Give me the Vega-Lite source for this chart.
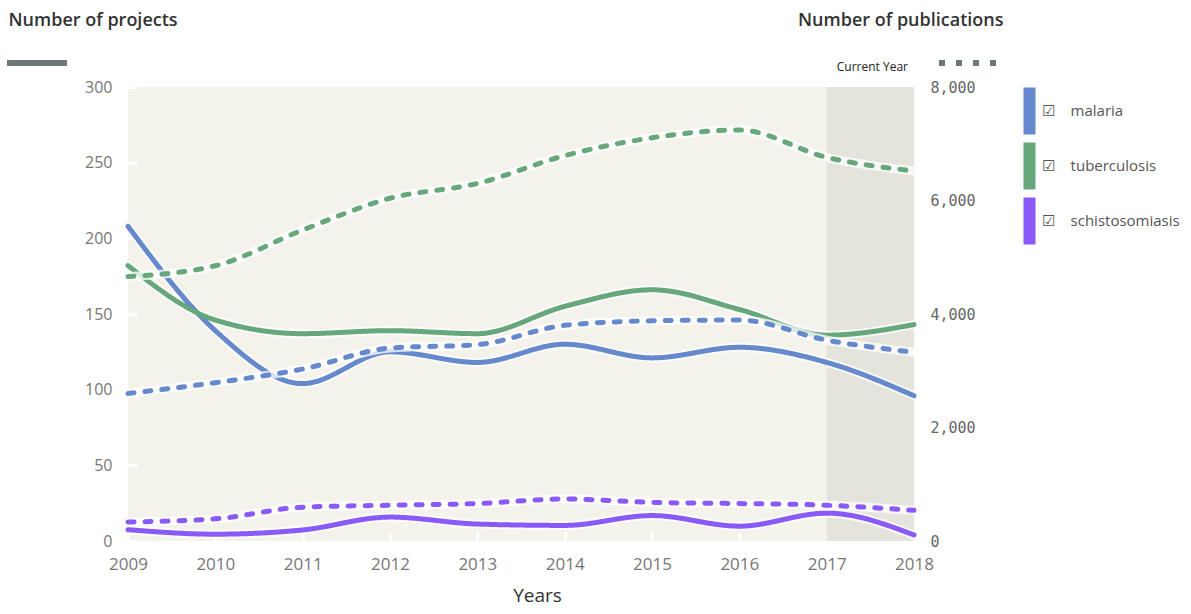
{
  "$schema": "https://vega.github.io/schema/vega-lite/v6.json",
  "width": 786,
  "height": 454,
  "autosize": {"type": "none"},
  "padding": {"left": 128, "top": 87, "right": 277, "bottom": 73},
  "background": "white",
  "config": {"view": {"fill": "#f3f2eb", "stroke": null}},
  "data": {
    "values": [
      {"year": 2009, "disease": "malaria", "projects": 208, "pubs": 2600},
      {"year": 2010, "disease": "malaria", "projects": 139, "pubs": 2790},
      {"year": 2011, "disease": "malaria", "projects": 104, "pubs": 3030},
      {"year": 2012, "disease": "malaria", "projects": 125, "pubs": 3400},
      {"year": 2013, "disease": "malaria", "projects": 118, "pubs": 3460},
      {"year": 2014, "disease": "malaria", "projects": 130, "pubs": 3800},
      {"year": 2015, "disease": "malaria", "projects": 121, "pubs": 3880},
      {"year": 2016, "disease": "malaria", "projects": 128, "pubs": 3894},
      {"year": 2017, "disease": "malaria", "projects": 118, "pubs": 3540},
      {"year": 2018, "disease": "malaria", "projects": 96, "pubs": 3325},
      {"year": 2009, "disease": "tuberculosis", "projects": 182, "pubs": 4660},
      {"year": 2010, "disease": "tuberculosis", "projects": 146, "pubs": 4850},
      {"year": 2011, "disease": "tuberculosis", "projects": 137, "pubs": 5480},
      {"year": 2012, "disease": "tuberculosis", "projects": 139, "pubs": 6040},
      {"year": 2013, "disease": "tuberculosis", "projects": 137, "pubs": 6300},
      {"year": 2014, "disease": "tuberculosis", "projects": 155, "pubs": 6790},
      {"year": 2015, "disease": "tuberculosis", "projects": 166, "pubs": 7105},
      {"year": 2016, "disease": "tuberculosis", "projects": 153, "pubs": 7242},
      {"year": 2017, "disease": "tuberculosis", "projects": 136, "pubs": 6760},
      {"year": 2018, "disease": "tuberculosis", "projects": 143, "pubs": 6519},
      {"year": 2009, "disease": "schistosomiasis", "projects": 7.5, "pubs": 335},
      {"year": 2010, "disease": "schistosomiasis", "projects": 4.5, "pubs": 390},
      {"year": 2011, "disease": "schistosomiasis", "projects": 7.3, "pubs": 596},
      {"year": 2012, "disease": "schistosomiasis", "projects": 15.8, "pubs": 630},
      {"year": 2013, "disease": "schistosomiasis", "projects": 11.2, "pubs": 660},
      {"year": 2014, "disease": "schistosomiasis", "projects": 10.3, "pubs": 740},
      {"year": 2015, "disease": "schistosomiasis", "projects": 16.8, "pubs": 680},
      {"year": 2016, "disease": "schistosomiasis", "projects": 9.8, "pubs": 660},
      {"year": 2017, "disease": "schistosomiasis", "projects": 18.4, "pubs": 630},
      {"year": 2018, "disease": "schistosomiasis", "projects": 4, "pubs": 540}
    ]
  },
  "encoding": {
    "x": {
      "field": "year",
      "type": "quantitative",
      "scale": {"domain": [2009, 2018], "nice": false, "zero": false},
      "axis": {
        "title": "Years",
        "values": [2009, 2010, 2011, 2012, 2013, 2014, 2015, 2016, 2017, 2018],
        "format": "d",
        "domain": false,
        "grid": false,
        "tickColor": "white",
        "tickWidth": 3,
        "tickSize": -9,
        "labelPadding": 24,
        "labelFlush": false,
        "labelOverlap": false,
        "labelFont": "Open Sans",
        "labelFontSize": 17,
        "labelColor": "#777777",
        "titleFont": "Open Sans",
        "titleFontSize": 19,
        "titleFontWeight": "normal",
        "titleColor": "#333333",
        "titlePadding": 14,
        "titleX": 409
      }
    }
  },
  "layer": [
    {
      "data": {"values": [{"year": 2017, "year_end": 2018, "label": "Current Year"}]},
      "layer": [
        {
          "mark": {"type": "rect", "color": "#e4e3dc"},
          "encoding": {"x2": {"field": "year_end"}}
        },
        {
          "mark": {"type": "text", "align": "right", "baseline": "middle", "dx": -6, "dy": -20, "font": "Open Sans", "fontSize": 12, "color": "#222222"},
          "encoding": {
            "x": {"field": "year_end", "type": "quantitative"},
            "y": {"datum": 300, "type": "quantitative", "scale": {"domain": [0, 300], "nice": false}, "axis": null},
            "text": {"field": "label"}
          }
        }
      ]
    },
    {
      "layer": [
        {
          "mark": {"type": "line", "interpolate": "monotone", "strokeWidth": 9, "color": "white", "opacity": 0.75, "strokeCap": "round"},
          "encoding": {
            "y": {"field": "projects", "type": "quantitative", "scale": {"domain": [0, 300], "nice": false},
              "axis": {"orient": "left", "title": "Number of projects", "titleAngle": 0, "titleX": -120, "titleY": -67, "titleAlign": "left", "titleBaseline": "middle", "titleFont": "Open Sans", "titleFontSize": 18, "titleFontWeight": 600, "titleColor": "#333333", "values": [0, 50, 100, 150, 200, 250, 300], "domain": false, "grid": false, "tickColor": "white", "tickWidth": 3, "tickSize": -9, "labelPadding": 25, "labelFlush": false, "labelFont": "Open Sans", "labelFontSize": 16, "labelColor": "#777777"}},
            "detail": {"field": "disease"}
          }
        },
        {
          "mark": {"type": "line", "interpolate": "monotone", "strokeWidth": 5, "strokeCap": "round"},
          "encoding": {
            "y": {"field": "projects", "type": "quantitative", "scale": {"domain": [0, 300], "nice": false},
              "axis": {"orient": "left", "title": "Number of projects", "titleAngle": 0, "titleX": -120, "titleY": -67, "titleAlign": "left", "titleBaseline": "middle", "titleFont": "Open Sans", "titleFontSize": 18, "titleFontWeight": 600, "titleColor": "#333333", "values": [0, 50, 100, 150, 200, 250, 300], "domain": false, "grid": false, "tickColor": "white", "tickWidth": 3, "tickSize": -9, "labelPadding": 25, "labelFlush": false, "labelFont": "Open Sans", "labelFontSize": 16, "labelColor": "#777777"}},
            "color": {"field": "disease", "type": "nominal",
              "scale": {"domain": ["malaria", "tuberculosis", "schistosomiasis"], "range": ["#6688cc", "#66a77b", "#8a5af8"]},
              "legend": {"orient": "none", "legendX": 894, "legendY": 16.5, "title": null, "symbolType": "M -1 -3.75 L 1 -3.75 M -1 -3.5 L 1 -3.5 M -1 -3.25 L 1 -3.25 M -1 -3 L 1 -3 M -1 -2.75 L 1 -2.75 M -1 -2.5 L 1 -2.5 M -1 -2.25 L 1 -2.25 M -1 -2 L 1 -2 M -1 -1.75 L 1 -1.75 M -1 -1.5 L 1 -1.5 M -1 -1.25 L 1 -1.25 M -1 -1 L 1 -1 M -1 -0.75 L 1 -0.75 M -1 -0.5 L 1 -0.5 M -1 -0.25 L 1 -0.25 M -1 0 L 1 0 M -1 0.25 L 1 0.25 M -1 0.5 L 1 0.5 M -1 0.75 L 1 0.75 M -1 1 L 1 1 M -1 1.25 L 1 1.25 M -1 1.5 L 1 1.5 M -1 1.75 L 1 1.75 M -1 2 L 1 2 M -1 2.25 L 1 2.25 M -1 2.5 L 1 2.5 M -1 2.75 L 1 2.75 M -1 3 L 1 3 M -1 3.25 L 1 3.25 M -1 3.5 L 1 3.5 M -1 3.75 L 1 3.75", "symbolSize": 144, "symbolStrokeWidth": 2, "labelExpr": "'☑\u00a0\u00a0\u00a0\u00a0' + datum.label", "labelFont": "Open Sans", "labelFontSize": 15, "labelColor": "#555555", "labelOffset": 5, "rowPadding": 2}},
            "strokeDash": {"datum": "projects", "type": "nominal",
              "scale": {"domain": ["projects", "publications"], "range": [[1, 0], [6, 11]]},
              "legend": {"orient": "none", "legendX": -124, "legendY": -57, "direction": "horizontal", "title": null, "labelExpr": "''", "symbolType": "stroke", "symbolSize": 3600, "symbolStrokeWidth": 6, "symbolStrokeColor": "#6b7878", "columnPadding": 848, "labelOffset": 0}}
          }
        }
      ]
    },
    {
      "layer": [
        {
          "mark": {"type": "line", "interpolate": "monotone", "strokeWidth": 9, "color": "white", "opacity": 0.75, "strokeCap": "round"},
          "encoding": {
            "y": {"field": "pubs", "type": "quantitative", "scale": {"domain": [0, 8000], "nice": false},
              "axis": {"orient": "right", "title": "Number of publications", "titleAngle": 0, "titleX": 89, "titleY": -67, "titleAlign": "right", "titleBaseline": "middle", "titleFont": "Open Sans", "titleFontSize": 18, "titleFontWeight": 600, "titleColor": "#333333", "values": [0, 2000, 4000, 6000, 8000], "labelExpr": "format(datum.value, ',')", "domain": false, "grid": false, "tickColor": "white", "tickWidth": 3, "tickSize": -9, "labelPadding": 25, "labelFlush": false, "labelFont": "DejaVu Sans Mono", "labelFontSize": 15, "labelColor": "#666666"}},
            "detail": {"field": "disease"}
          }
        },
        {
          "mark": {"type": "line", "interpolate": "monotone", "strokeWidth": 5, "strokeCap": "round"},
          "encoding": {
            "y": {"field": "pubs", "type": "quantitative", "scale": {"domain": [0, 8000], "nice": false},
              "axis": {"orient": "right", "title": "Number of publications", "titleAngle": 0, "titleX": 89, "titleY": -67, "titleAlign": "right", "titleBaseline": "middle", "titleFont": "Open Sans", "titleFontSize": 18, "titleFontWeight": 600, "titleColor": "#333333", "values": [0, 2000, 4000, 6000, 8000], "labelExpr": "format(datum.value, ',')", "domain": false, "grid": false, "tickColor": "white", "tickWidth": 3, "tickSize": -9, "labelPadding": 25, "labelFlush": false, "labelFont": "DejaVu Sans Mono", "labelFontSize": 15, "labelColor": "#666666"}},
            "color": {"field": "disease", "type": "nominal",
              "scale": {"domain": ["malaria", "tuberculosis", "schistosomiasis"], "range": ["#6688cc", "#66a77b", "#8a5af8"]},
              "legend": {"orient": "none", "legendX": 894, "legendY": 16.5, "title": null, "symbolType": "M -1 -3.75 L 1 -3.75 M -1 -3.5 L 1 -3.5 M -1 -3.25 L 1 -3.25 M -1 -3 L 1 -3 M -1 -2.75 L 1 -2.75 M -1 -2.5 L 1 -2.5 M -1 -2.25 L 1 -2.25 M -1 -2 L 1 -2 M -1 -1.75 L 1 -1.75 M -1 -1.5 L 1 -1.5 M -1 -1.25 L 1 -1.25 M -1 -1 L 1 -1 M -1 -0.75 L 1 -0.75 M -1 -0.5 L 1 -0.5 M -1 -0.25 L 1 -0.25 M -1 0 L 1 0 M -1 0.25 L 1 0.25 M -1 0.5 L 1 0.5 M -1 0.75 L 1 0.75 M -1 1 L 1 1 M -1 1.25 L 1 1.25 M -1 1.5 L 1 1.5 M -1 1.75 L 1 1.75 M -1 2 L 1 2 M -1 2.25 L 1 2.25 M -1 2.5 L 1 2.5 M -1 2.75 L 1 2.75 M -1 3 L 1 3 M -1 3.25 L 1 3.25 M -1 3.5 L 1 3.5 M -1 3.75 L 1 3.75", "symbolSize": 144, "symbolStrokeWidth": 2, "labelExpr": "'☑\u00a0\u00a0\u00a0\u00a0' + datum.label", "labelFont": "Open Sans", "labelFontSize": 15, "labelColor": "#555555", "labelOffset": 5, "rowPadding": 2}},
            "strokeDash": {"datum": "publications", "type": "nominal",
              "scale": {"domain": ["projects", "publications"], "range": [[1, 0], [6, 11]]},
              "legend": {"orient": "none", "legendX": -124, "legendY": -57, "direction": "horizontal", "title": null, "labelExpr": "''", "symbolType": "stroke", "symbolSize": 3600, "symbolStrokeWidth": 6, "symbolStrokeColor": "#6b7878", "columnPadding": 848, "labelOffset": 0}}
          }
        }
      ]
    }
  ],
  "resolve": {"scale": {"y": "independent"}}
}
